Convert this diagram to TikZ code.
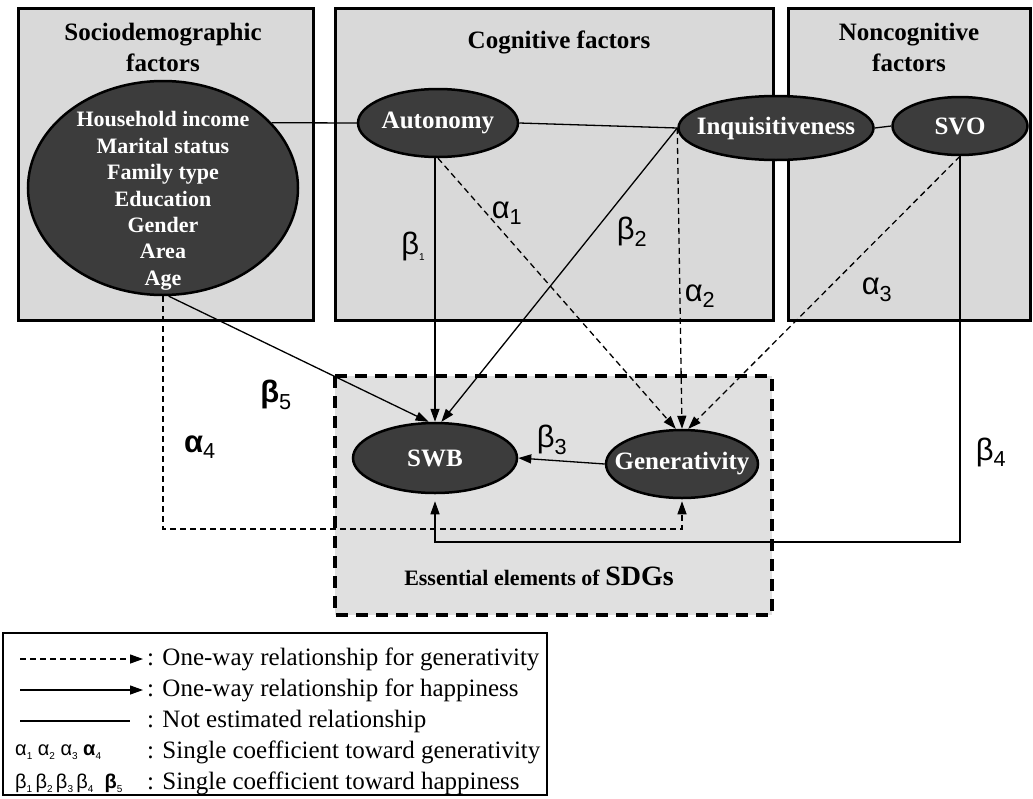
\documentclass[tikz,border=0pt]{standalone}
\usepackage{fontspec}
\setmainfont{Liberation Serif}
\newfontfamily\greekfont{Liberation Sans}
\usetikzlibrary{shapes.geometric, arrows.meta}

\definecolor{boxgray}{HTML}{D9D9D9}
\definecolor{sdggray}{HTML}{E0E0E0}
\definecolor{ovalgray}{HTML}{3C3C3C}

\newcommand{\coefsub}[2]{#1\textsubscript{#2}}
\newcommand{\tinysub}[2]{#1\raisebox{-0.2em}{\fontsize{10}{10}\selectfont #2}}
\newcommand{\fitlabel}[1]{\makebox[0pt]{#1}}

\begin{document}
\begin{tikzpicture}[x=1pt, y=-1pt,
  factor/.style={draw, line width=3pt, fill=boxgray},
  latent/.style={ellipse, draw, line width=2.5pt, fill=ovalgray, text=white, inner sep=0pt, font=\bfseries\fontsize{25}{30}\selectfont},
  title/.style={align=center, inner sep=0pt, font=\bfseries\fontsize{25}{31}\selectfont},
  happy/.style={line width=1.3pt, -{Triangle[length=13pt, width=9pt]}},
  gener/.style={line width=1.3pt, dash pattern=on 6pt off 4pt, -{Triangle[length=13pt, width=9pt]}},
  plain/.style={line width=1.3pt},
  coef/.style={inner sep=0pt, font=\greekfont\fontsize{31}{33}\selectfont},
  legcoef/.style={anchor=west, inner sep=0pt, font=\greekfont\fontsize{20}{22}\selectfont},
  legtext/.style={anchor=west, inner sep=0pt, font=\fontsize{25}{28}\selectfont}
]

\useasboundingbox (0,0) rectangle (1033,798);

% factor blocks
\draw[factor] (18,8) rectangle (313,320);
\draw[factor] (335,8) rectangle (773,320);
\draw[factor] (788,8) rectangle (1030,320);
\draw[line width=3.5pt, dash pattern=on 12pt off 8pt, fill=sdggray] (335,376) rectangle (772,615);

\node (sociotitle)[title] at (163,47) {Sociodemographic\\factors};
\node (cogtitle)[title, anchor=base] at (559,48) {Cognitive factors};
\node (noncogtitle)[title] at (909,47) {Noncognitive\\factors};

% latent variables
\node (socio)[latent, minimum width=270pt, minimum height=214pt, font=\bfseries\fontsize{22}{26.4}\selectfont] at (163,188)
  {\fitlabel{\smash{\raisebox{-18pt}{\begin{tabular}{@{}c@{}}Household income\\Marital status\\Family type\\Education\\Gender\\Area\\Age\end{tabular}}}}};
\node (autonomy)[latent, minimum width=160pt, minimum height=68pt] at (438,123) {\fitlabel{Autonomy}};
\node (inquis)[latent, minimum width=195pt, minimum height=64pt] at (776,128) {\fitlabel{Inquisitiveness}};
\node (svo)[latent, minimum width=135pt, minimum height=58pt] at (960,126) {\fitlabel{SVO}};
\node (swb)[latent, minimum width=164pt, minimum height=70pt] at (435,458) {\fitlabel{SWB}};
\node (gen)[latent, minimum width=152pt, minimum height=68pt] at (682,464) {\fitlabel{Generativity}};

\node (sdglabel)[anchor=base, inner sep=0pt, font=\bfseries\fontsize{22}{26}\selectfont] at (539,585) {Essential elements of {\fontsize{28}{30}\selectfont SDGs}};

\coordinate (agerail) at (163,529);
\coordinate (svorail) at (962,542);

% not estimated
\draw[plain] (socio.31) -- (autonomy.west);
\draw[plain] (autonomy.east) -- (inquis.west);
\draw[plain] (inquis.east) -- (svo.west);

% toward happiness
\draw[happy] (autonomy.south -| swb.north) -- (swb.north);
\draw[happy] (inquis.west) -- (swb.80);
\draw[happy] (socio.-87) -- (swb.100);
\draw[happy] (gen.west) -- (swb.east);
\draw[happy, shorten >=7pt] (svo.south) |- (svorail -| swb.south) -- (swb.south);

% toward generativity
\draw[gener] (autonomy.south) -- (gen.100);
\draw[gener] (inquis.west) -- (gen.north);
\draw[gener] (svo.south) -- (gen.80);
\draw[gener, shorten >=2pt] (socio.south) -- (agerail) -| (gen.south);

% coefficients
\node (a1)[coef] at (507,213) {\coefsub{α}{1}};
\node (a2)[coef] at (700,296) {\coefsub{α}{2}};
\node (a3)[coef] at (877,290) {\coefsub{α}{3}};
\node (a4)[coef] at (200,447) {\coefsub{\textbf{α}}{4}};
\node (b1)[coef] at (413,246) {\tinysub{β}{1}};
\node (b2)[coef] at (632,232) {\coefsub{β}{2}};
\node (b3)[coef] at (552,440) {\coefsub{β}{3}};
\node (b4)[coef] at (991,452) {\coefsub{β}{4}};
\node (b5)[coef] at (276,395) {\coefsub{\textbf{β}}{5}};

% legend
\draw[line width=1.5pt] (3,633) rectangle (547,795);
\coordinate (leg1a) at (20,659); \coordinate (leg1b) at (143,659);
\coordinate (leg2a) at (20,690); \coordinate (leg2b) at (143,690);
\coordinate (leg3a) at (20,721); \coordinate (leg3b) at (130,721);
\draw[gener] (leg1a) -- (leg1b);
\draw[happy] (leg2a) -- (leg2b);
\draw[plain] (leg3a) -- (leg3b);
\node (leg1)[legtext] at (147,659) {: One-way relationship for generativity};
\node (leg2)[legtext] at (147,690) {: One-way relationship for happiness};
\node (leg3)[legtext] at (147,721) {: Not estimated relationship};
\node (leg4sym)[legcoef] at (15,752) {\tinysub{α}{1} \tinysub{α}{2} \tinysub{α}{3} \tinysub{\textbf{α}}{4}};
\node (leg5sym)[legcoef] at (15,783) {\tinysub{β}{1}\,\tinysub{β}{2}\,\tinysub{β}{3}\,\tinysub{β}{4}\ \ \tinysub{\textbf{β}}{5}};
\node (leg4)[legtext] at (147,752) {: Single coefficient toward generativity};
\node (leg5)[legtext] at (147,783) {: Single coefficient toward happiness};

\end{tikzpicture}
\end{document}
